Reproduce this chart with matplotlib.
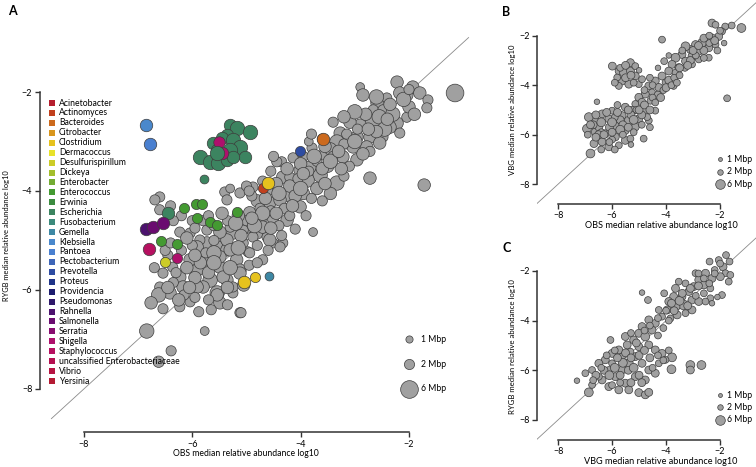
import matplotlib
matplotlib.use("Agg")
import matplotlib.pyplot as plt
import numpy as np

plt.rcParams['font.family'] = ['Lato', 'DejaVu Sans']

# genus legend (panel A)
genera = [
    "Acinetobacter", "Actinomyces", "Bacteroides", "Citrobacter", "Clostridium",
    "Dermacoccus", "Desulfurispirillum", "Dickeya", "Enterobacter", "Enterococcus",
    "Erwinia", "Escherichia", "Fusobacterium", "Gemella", "Klebsiella", "Pantoea",
    "Pectobacterium", "Prevotella", "Proteus", "Providencia", "Pseudomonas",
    "Rahnella", "Salmonella", "Serratia", "Shigella", "Staphylococcus",
    "uncalssified Enterobacteriaceae", "Vibrio", "Yersinia",
]
genus_colors = [
    "#B51F2E", "#C1401E", "#CC6A1E", "#D8961E", "#E6C21E", "#E8E22A", "#CCCC28",
    "#A4BE2C", "#74AC34", "#449A32", "#3C8C40", "#3C8460", "#3C8A7C", "#3E88A4",
    "#4A88CC", "#4A80D0", "#3E66B8", "#2E4CA2", "#1F3488", "#1C1C6E", "#2E186A",
    "#4C126E", "#6A0C70", "#880C70", "#AE106C", "#B61060", "#B41050", "#B61442",
    "#B41A32",
]
size_legend = [1, 2, 6]  # Mbp

# panel A: (OBS, RYGB, genome size Mbp), non-highlighted genera
gray_A = [
    (-1.15, -2.02, 6), (-1.72, -3.88, 3), (-2.72, -3.74, 3), (-2.90, -1.90, 1.5),
    (-2.85, -2.06, 3), (-2.22, -1.80, 3), (-1.93, -1.90, 3), (-1.80, -2.02, 3),
    (-1.65, -2.16, 2), (-1.67, -2.32, 2), (-2.04, -2.06, 3), (-2.17, -2.02, 3),
    (-2.41, -2.12, 2), (-2.59, -2.22, 3), (-2.66, -2.36, 2), (-2.48, -2.36, 2),
    (-2.04, -2.51, 2), (-2.22, -2.63, 3), (-2.35, -2.71, 3), (-2.66, -2.63, 5),
    (-2.90, -2.67, 3), (-3.09, -2.61, 3), (-3.40, -2.61, 2), (-3.27, -2.83, 3),
    (-2.96, -2.91, 3), (-2.72, -2.91, 3), (-2.48, -2.91, 2), (-2.17, -2.83, 2),
    (-2.30, -2.45, 4), (-2.55, -2.50, 4), (-2.80, -2.45, 3), (-2.00, -2.30, 3),
    (-3.33, -3.01, 4), (-3.03, -3.11, 3), (-2.78, -3.11, 3), (-2.54, -3.03, 3),
    (-3.22, -3.31, 3), (-2.96, -3.37, 3), (-3.79, -3.13, 2), (-3.59, -3.27, 2),
    (-3.45, -3.15, 3), (-2.72, -3.20, 2), (-3.10, -3.50, 2), (-3.33, -3.84, 4),
    (-3.64, -3.68, 4), (-3.88, -3.78, 4), (-4.20, -4.08, 4), (-4.35, -3.41, 2),
    (-4.14, -3.33, 2), (-4.01, -3.58, 3), (-3.83, -3.52, 3), (-4.33, -3.72, 3),
    (-3.50, -3.50, 3), (-3.70, -3.40, 2), (-3.95, -3.30, 2), (-3.20, -3.70, 2),
    (-3.45, -4.05, 3), (-3.70, -3.95, 3), (-3.95, -4.05, 3), (-4.57, -4.24, 3),
    (-4.38, -4.18, 3), (-4.01, -4.32, 3), (-4.25, -4.59, 3), (-4.75, -4.59, 3),
    (-4.94, -4.44, 3), (-5.12, -4.04, 2), (-4.88, -3.92, 2), (-5.40, -4.02, 2),
    (-4.10, -4.77, 2), (-3.77, -4.83, 1.5), (-4.51, -4.53, 3), (-4.81, -4.85, 3),
    (-4.62, -4.93, 2), (-4.99, -4.73, 3), (-5.25, -4.85, 3), (-5.49, -4.93, 3),
    (-4.33, -5.05, 2), (-4.51, -5.05, 2), (-4.70, -5.39, 2), (-4.97, -5.23, 2),
    (-5.73, -5.05, 3), (-5.54, -5.13, 3), (-5.36, -5.19, 3), (-5.18, -5.39, 3),
    (-5.73, -5.39, 3), (-5.49, -5.54, 3), (-5.12, -5.60, 3), (-5.67, -5.80, 4),
    (-5.36, -5.80, 3), (-5.54, -6.06, 4), (-5.25, -6.06, 2), (-5.49, -6.26, 2),
    (-5.80, -5.94, 3), (-5.12, -6.46, 2), (-5.77, -6.83, 1.5), (-6.60, -4.12, 2),
    (-6.23, -4.83, 2), (-6.04, -4.85, 2), (-5.86, -4.99, 2), (-5.91, -5.13, 3),
    (-6.04, -5.39, 3), (-6.36, -5.54, 2), (-6.54, -5.66, 2), (-6.23, -5.74, 3),
    (-5.91, -5.60, 3), (-6.60, -5.94, 2), (-6.41, -6.06, 3), (-5.49, -5.33, 3),
    (-5.36, -4.99, 3), (-5.30, -5.19, 3), (-5.06, -5.05, 2), (-5.06, -4.79, 2),
    (-5.30, -4.73, 2), (-5.49, -4.83, 3), (-5.73, -4.79, 2), (-4.88, -4.93, 2),
    (-4.70, -4.73, 3), (-4.57, -4.99, 3), (-4.38, -5.13, 2), (-4.94, -5.25, 2),
    (-5.12, -5.66, 3), (-5.43, -5.74, 3), (-5.91, -5.94, 3), (-5.25, -5.94, 2),
    (-6.17, -5.94, 3), (-6.69, -4.18, 2), (-6.60, -4.38, 2), (-5.36, -4.18, 2),
    (-4.44, -3.41, 2), (-4.20, -3.72, 2), (-6.84, -6.83, 4), (-6.39, -7.23, 2),
    (-6.62, -7.45, 2.5), (-5.10, -6.46, 2), (-5.88, -6.44, 2), (-6.62, -6.10, 4),
    (-6.76, -6.26, 3), (-6.54, -6.38, 2), (-6.23, -6.34, 2), (-6.04, -6.24, 2),
    (-5.49, -6.26, 3), (-5.54, -6.10, 3), (-4.80, -4.20, 3), (-4.60, -4.00, 2),
    (-4.45, -3.85, 3), (-4.70, -3.80, 2), (-4.90, -4.10, 2), (-4.20, -3.90, 3),
    (-4.05, -3.75, 2), (-3.85, -3.60, 2), (-3.60, -3.55, 3), (-4.10, -4.10, 3),
    (-4.30, -4.35, 2), (-4.55, -4.40, 2), (-4.75, -4.35, 2), (-5.00, -4.60, 2),
    (-5.15, -4.50, 3), (-5.35, -4.60, 2), (-5.60, -4.70, 2), (-5.80, -4.60, 2),
    (-6.00, -4.60, 2), (-6.20, -4.50, 2), (-6.40, -4.30, 2), (-6.00, -5.10, 2),
    (-6.20, -5.20, 2), (-6.45, -5.30, 2), (-6.70, -5.55, 2), (-5.75, -5.25, 2),
    (-5.60, -5.00, 2), (-4.95, -5.50, 2), (-4.80, -5.10, 2), (-4.60, -5.20, 2),
    (-4.40, -4.70, 2), (-4.20, -4.50, 2), (-3.90, -4.50, 2), (-3.60, -4.20, 2),
    (-3.40, -3.30, 2), (-3.20, -3.05, 2), (-2.95, -2.75, 2), (-3.15, -2.85, 2),
    (-3.60, -2.95, 2), (-3.85, -3.00, 1.5), (-5.00, -3.90, 2), (-5.30, -3.95, 1.5),
    (-6.15, -6.10, 2), (-6.35, -5.85, 2), (-5.95, -6.15, 2), (-5.70, -6.20, 2),
    (-5.35, -6.30, 2), (-6.50, -5.20, 2),
    (-3.00, -2.40, 4), (-3.20, -2.50, 3), (-2.60, -2.10, 4), (-2.10, -2.15, 4),
    (-1.90, -2.45, 3), (-2.45, -2.75, 4), (-2.85, -3.25, 3), (-3.55, -3.10, 3),
    (-3.75, -3.30, 4), (-4.00, -3.45, 3), (-4.25, -3.55, 3), (-4.55, -3.60, 2),
    (-3.25, -3.55, 3), (-3.55, -3.85, 3), (-3.80, -4.15, 2), (-4.15, -4.30, 3),
    (-4.40, -4.05, 4), (-4.65, -4.15, 3), (-4.85, -4.70, 4), (-5.10, -4.90, 3),
    (-5.20, -4.65, 4), (-5.45, -4.45, 3), (-5.70, -4.50, 2), (-5.60, -5.25, 4),
    (-5.85, -5.45, 3), (-5.30, -5.55, 4), (-5.05, -5.90, 3), (-5.70, -5.65, 3),
    (-5.95, -5.75, 3), (-6.10, -5.55, 3), (-6.30, -5.65, 2), (-6.45, -5.95, 3),
    (-6.25, -6.20, 3), (-5.65, -6.40, 2), (-4.80, -5.45, 2), (-4.55, -4.75, 3),
    (-4.35, -4.90, 2), (-4.95, -4.00, 2), (-4.70, -4.45, 4), (-4.00, -3.95, 4),
    (-3.45, -3.40, 4), (-3.00, -3.00, 4), (-2.60, -2.80, 3), (-2.35, -2.25, 3),
    (-2.00, -1.95, 2), (-3.80, -2.85, 2), (-4.50, -3.30, 2), (-6.35, -4.60, 2),
    (-6.10, -4.95, 3), (-6.40, -5.05, 2), (-5.95, -4.75, 2),
    (-5.15, -5.15, 4), (-5.60, -5.45, 4), (-5.95, -5.30, 3), (-4.90, -4.55, 3),
    (-4.45, -4.45, 3), (-3.95, -3.65, 3), (-3.30, -3.20, 3), (-2.75, -2.75, 3),
    (-2.40, -2.55, 3), (-6.05, -5.95, 3), (-5.35, -5.95, 3),
]

# panel A: highlighted genera (genus, OBS, RYGB, Mbp)
colored_A = [
    ("Klebsiella", -6.86, -2.67, 3), ("Pantoea", -6.78, -3.05, 3),
    ("Escherichia", -5.30, -2.67, 3), ("Escherichia", -5.18, -2.73, 4),
    ("Escherichia", -4.94, -2.81, 4), ("Escherichia", -5.36, -2.87, 3),
    ("Escherichia", -5.45, -2.93, 3), ("Escherichia", -5.25, -2.97, 4),
    ("Escherichia", -5.12, -3.11, 4), ("Escherichia", -5.03, -3.31, 3),
    ("Escherichia", -5.30, -3.17, 4), ("Escherichia", -5.62, -3.03, 3),
    ("Escherichia", -5.86, -3.31, 4), ("Escherichia", -5.67, -3.41, 4),
    ("Escherichia", -5.52, -3.43, 4), ("Escherichia", -5.36, -3.37, 3),
    ("Escherichia", -5.25, -3.31, 3), ("Escherichia", -5.54, -3.17, 3),
    ("Shigella", -5.51, -3.01, 2.5), ("Shigella", -5.45, -3.23, 3),
    ("Escherichia", -5.54, -3.23, 4), ("Escherichia", -5.78, -3.76, 1.5),
    ("Escherichia", -6.45, -4.44, 3),
    ("Rahnella", -6.86, -4.77, 3), ("Salmonella", -6.73, -4.73, 3),
    ("Salmonella", -6.54, -4.65, 3), ("Staphylococcus", -6.80, -5.17, 3),
    ("Desulfurispirillum", -6.50, -5.43, 2), ("Shigella", -6.28, -5.35, 2),
    ("Enterococcus", -6.58, -5.01, 2), ("Enterococcus", -6.28, -5.07, 2),
    ("Enterococcus", -6.15, -4.34, 2), ("Enterococcus", -5.93, -4.26, 2),
    ("Enterococcus", -5.82, -4.26, 2), ("Enterococcus", -5.91, -4.55, 2),
    ("Enterococcus", -5.67, -4.63, 2), ("Enterococcus", -5.54, -4.69, 2),
    ("Enterococcus", -5.18, -4.42, 2),
    ("Actinomyces", -4.70, -3.94, 2), ("Clostridium", -4.60, -3.84, 3),
    ("Clostridium", -5.05, -5.84, 3), ("Clostridium", -4.84, -5.74, 2),
    ("Gemella", -4.58, -5.72, 1.5), ("Bacteroides", -3.59, -2.95, 3),
    ("Prevotella", -4.01, -3.19, 2),
]

# panel B: (OBS, VBG, Mbp)
gray_B = [
    (-1.21, -1.69, 5), (-1.57, -1.59, 3), (-1.81, -1.63, 3), (-2.30, -1.49, 4),
    (-2.17, -1.56, 3), (-1.93, -1.83, 3), (-2.05, -2.03, 4), (-2.30, -2.09, 4),
    (-2.54, -2.16, 4), (-2.17, -2.36, 3), (-2.67, -2.29, 5), (-2.91, -2.36, 4),
    (-2.42, -2.49, 4), (-2.79, -2.63, 4), (-3.10, -2.56, 4), (-3.28, -2.43, 5),
    (-3.04, -2.83, 4), (-3.41, -2.76, 4), (-3.65, -2.89, 5), (-3.28, -3.03, 4),
    (-3.78, -3.16, 4), (-3.53, -3.29, 4), (-4.07, -3.03, 3), (-3.90, -3.43, 4),
    (-3.65, -3.49, 3), (-4.15, -2.16, 3), (-3.04, -3.16, 3), (-2.79, -2.96, 3),
    (-1.74, -4.53, 3), (-2.42, -2.89, 3), (-4.15, -3.63, 4), (-4.40, -3.83, 4),
    (-4.02, -3.89, 3), (-4.27, -4.09, 4), (-4.64, -4.03, 4), (-4.52, -4.29, 3),
    (-3.72, -4.03, 3), (-4.77, -4.36, 4), (-5.01, -4.49, 4), (-4.89, -4.69, 4),
    (-5.14, -4.76, 3), (-4.58, -4.63, 3), (-4.40, -5.03, 3), (-4.77, -5.03, 4),
    (-5.26, -5.03, 5), (-5.51, -4.89, 4), (-5.63, -5.23, 4), (-5.38, -5.43, 5),
    (-5.01, -5.36, 4), (-4.64, -5.43, 3), (-5.14, -5.69, 4), (-5.51, -5.83, 4),
    (-5.88, -5.63, 4), (-6.12, -5.36, 4), (-6.37, -5.16, 4), (-6.00, -5.03, 3),
    (-6.62, -5.43, 4), (-6.86, -5.29, 5), (-6.93, -5.76, 5), (-6.62, -5.89, 4),
    (-6.25, -5.96, 4), (-5.88, -6.09, 4), (-5.51, -6.23, 4), (-6.37, -6.29, 4),
    (-6.67, -6.36, 4), (-6.12, -6.49, 4), (-6.80, -6.76, 5), (-5.75, -6.43, 3),
    (-5.32, -6.16, 3), (-4.83, -6.16, 3), (-6.56, -4.67, 2), (-4.70, -5.29, 3),
    (-6.49, -5.69, 4), (-5.99, -3.23, 4), (-5.74, -3.43, 4), (-5.56, -3.49, 5),
    (-5.32, -3.09, 4), (-5.32, -3.43, 4), (-5.14, -3.63, 4), (-5.62, -3.83, 4),
    (-5.38, -3.96, 4), (-5.75, -4.03, 3), (-5.01, -3.96, 3), (-5.14, -3.23, 3),
    (-4.89, -3.76, 3), (-5.81, -3.69, 3), (-4.30, -4.40, 4), (-4.50, -4.50, 3),
    (-3.90, -3.80, 4), (-3.70, -3.70, 3), (-3.50, -3.60, 3), (-3.30, -3.30, 3),
    (-3.10, -3.00, 4), (-2.90, -2.80, 3), (-2.60, -2.60, 4), (-2.40, -2.30, 3),
    (-2.20, -2.20, 4), (-4.90, -5.20, 4), (-5.10, -5.00, 3), (-5.30, -5.20, 4),
    (-5.70, -5.40, 4), (-5.90, -5.30, 3), (-6.10, -5.70, 4), (-6.40, -5.90, 3),
    (-6.00, -6.20, 3), (-5.20, -5.90, 3), (-4.60, -5.70, 3), (-4.50, -4.00, 3),
    (-4.10, -4.20, 3), (-6.70, -5.60, 4), (-6.50, -6.00, 4), (-5.60, -5.60, 4),
    (-6.80, -5.60, 4), (-6.60, -5.20, 4), (-6.40, -5.50, 5), (-6.20, -5.10, 4),
    (-6.00, -5.50, 5), (-5.80, -5.10, 4), (-5.70, -5.80, 5), (-5.40, -5.70, 4),
    (-5.20, -5.40, 5), (-5.00, -5.00, 4), (-4.80, -4.80, 4), (-5.40, -5.00, 4),
    (-5.80, -4.80, 3), (-6.30, -6.00, 4), (-6.00, -5.90, 4), (-5.60, -6.00, 3),
    (-6.60, -6.10, 4), (-6.90, -6.00, 3), (-6.40, -6.60, 3), (-6.10, -6.30, 3),
    (-5.90, -6.60, 3), (-5.30, -6.40, 2), (-4.90, -5.60, 3), (-4.60, -5.00, 4),
    (-4.40, -4.70, 3), (-4.20, -4.50, 4), (-4.00, -4.10, 4), (-3.80, -4.00, 3),
    (-3.60, -3.90, 3), (-3.50, -3.30, 4), (-3.20, -3.20, 4), (-3.00, -2.60, 4),
    (-2.80, -2.40, 4), (-2.60, -2.10, 4), (-2.40, -2.00, 3), (-2.00, -1.80, 3),
    (-1.85, -2.30, 2), (-2.10, -2.60, 3), (-2.60, -2.90, 3), (-3.40, -2.60, 3),
    (-3.90, -2.80, 2), (-4.30, -3.30, 2), (-4.60, -3.70, 3), (-4.80, -4.20, 3),
    (-5.50, -3.70, 4), (-5.30, -3.60, 4), (-5.70, -3.30, 3), (-5.50, -3.20, 4),
    (-5.20, -3.90, 3), (-5.90, -3.90, 3), (-5.00, -3.40, 2),
]

# panel C: (VBG, RYGB, Mbp)
gray_C = [
    (-1.78, -1.36, 3), (-2.05, -1.56, 3), (-1.65, -1.62, 3), (-1.89, -1.83, 4),
    (-2.20, -1.96, 3), (-2.39, -1.62, 3), (-1.80, -2.09, 3), (-1.62, -2.16, 3),
    (-1.68, -2.43, 3), (-1.99, -2.23, 4), (-2.30, -2.30, 4), (-2.54, -2.09, 4),
    (-2.79, -2.36, 4), (-2.91, -2.09, 3), (-2.60, -2.56, 4), (-2.36, -2.70, 3),
    (-1.93, -2.97, 3), (-2.36, -3.10, 3), (-2.98, -2.63, 4), (-3.28, -2.50, 3),
    (-3.16, -2.83, 4), (-3.53, -2.43, 3), (-3.65, -2.70, 4), (-3.41, -3.03, 4),
    (-3.72, -3.03, 4), (-3.04, -3.17, 4), (-2.79, -3.23, 4), (-2.54, -3.23, 3),
    (-3.35, -3.37, 6), (-3.65, -3.44, 5), (-3.90, -3.23, 4), (-3.96, -3.57, 4),
    (-3.04, -3.57, 4), (-3.59, -3.77, 4), (-3.28, -3.70, 3), (-3.84, -3.91, 3),
    (-4.27, -3.57, 3), (-4.15, -3.84, 3), (-4.89, -2.87, 2), (-4.67, -3.17, 3),
    (-4.07, -2.90, 3), (-4.40, -4.11, 4), (-4.64, -3.97, 4), (-4.52, -4.38, 4),
    (-4.89, -4.24, 4), (-5.01, -4.51, 4), (-4.77, -4.64, 5), (-5.20, -4.78, 4),
    (-5.51, -4.64, 4), (-5.44, -4.98, 4), (-5.01, -5.05, 4), (-4.64, -4.98, 4),
    (-4.40, -5.18, 4), (-4.15, -5.32, 4), (-3.78, -5.48, 5), (-3.80, -5.96, 5),
    (-3.10, -5.79, 5), (-2.69, -5.79, 5), (-3.10, -5.99, 4), (-5.75, -5.18, 4),
    (-6.06, -4.78, 3), (-6.00, -5.32, 4), (-6.25, -5.58, 4), (-6.49, -5.72, 4),
    (-6.74, -5.99, 3), (-6.99, -6.12, 3), (-7.30, -6.42, 2), (-6.86, -6.89, 5),
    (-6.74, -6.59, 3), (-6.37, -6.39, 4), (-6.12, -6.66, 4), (-5.88, -6.26, 4),
    (-5.63, -5.99, 4), (-5.38, -5.72, 5), (-5.14, -5.45, 4), (-4.89, -5.72, 4),
    (-4.64, -5.99, 4), (-4.40, -6.12, 4), (-4.77, -6.39, 4), (-5.14, -6.26, 4),
    (-5.51, -6.52, 4), (-5.75, -6.79, 4), (-5.38, -6.79, 4), (-5.01, -6.90, 4),
    (-4.77, -6.99, 4), (-4.64, -6.89, 4), (-6.12, -5.99, 3), (-6.49, -6.26, 3),
    (-6.00, -5.72, 3), (-5.63, -5.45, 3), (-5.32, -5.25, 3), (-4.27, -5.72, 3),
    (-4.02, -5.58, 3),
    (-6.60, -6.20, 4), (-6.30, -6.00, 4), (-6.10, -6.20, 5), (-5.90, -5.90, 5),
    (-5.70, -6.20, 4), (-5.60, -5.70, 5), (-5.40, -6.00, 4), (-5.20, -5.90, 5),
    (-5.00, -6.20, 4), (-4.90, -6.50, 4), (-5.30, -6.50, 4), (-5.70, -6.50, 3),
    (-6.00, -6.60, 3), (-5.80, -5.50, 4), (-5.50, -5.30, 4), (-5.30, -5.50, 4),
    (-5.00, -5.40, 4), (-4.80, -5.20, 4), (-4.60, -5.50, 4), (-4.50, -5.90, 3),
    (-4.30, -5.40, 3), (-4.10, -5.60, 3), (-3.90, -5.20, 3), (-5.10, -4.90, 4),
    (-5.30, -4.50, 3), (-4.80, -4.40, 3), (-4.60, -4.20, 3), (-4.30, -4.60, 3),
    (-4.10, -4.30, 3), (-3.90, -4.00, 3), (-4.30, -3.90, 3), (-3.70, -3.60, 4),
    (-3.50, -3.20, 5), (-3.20, -3.40, 4), (-3.40, -2.90, 4), (-3.10, -2.70, 4),
    (-2.80, -2.60, 4), (-2.60, -2.90, 3), (-2.90, -3.00, 3), (-2.40, -2.50, 3),
    (-2.20, -2.10, 3), (-2.60, -2.30, 3), (-2.80, -2.10, 3), (-2.00, -1.70, 3),
    (-3.80, -3.30, 4), (-4.00, -3.60, 3), (-6.40, -5.90, 3), (-6.70, -6.40, 3),
    (-6.20, -5.40, 3), (-5.90, -5.20, 3), (-2.30, -3.30, 2), (-2.10, -3.05, 2),
]

GRAY = "#a0a0a0"
EDGE = "#3c3c3c"
W, H = 756, 467
SCALE_A = 27
SCALE_BC = 8


def px_box(left, top, right, bottom):
    return [left / W, 1 - bottom / H, (right - left) / W, (bottom - top) / H]


def style_axes(ax, xlim, ylim, pad=2):
    ax.set_xlim(*xlim)
    ax.set_ylim(*ylim)
    ax.patch.set_visible(False)
    for s in ["top", "right"]:
        ax.spines[s].set_visible(False)
    for s in ["left", "bottom"]:
        ax.spines[s].set_bounds(-8, -2)
        ax.spines[s].set_linewidth(1.1)
        ax.spines[s].set_color("#333333")
    ax.set_xticks([-8, -6, -4, -2])
    ax.set_yticks([-8, -6, -4, -2])
    ax.tick_params(direction="out", length=3.5, width=1, labelsize=6.5,
                   pad=pad, color="#333333")


def size_key(ax, scale, text_x):
    for i, mbp in enumerate(size_legend):
        yy = -7 - 0.5 * i
        ax.scatter([-2], [yy], s=scale * mbp, c=GRAY, edgecolors=EDGE,
                   linewidths=0.5, clip_on=False, zorder=5)
        ax.text(text_x, yy, f"{mbp} Mbp", fontsize=6.2, va="center", ha="left")


def gray_scatter(ax, pts, scale):
    g = np.array(pts)
    ax.scatter(g[:, 0], g[:, 1], s=scale * g[:, 2], c=GRAY, edgecolors=EDGE,
               linewidths=0.5, zorder=2)


fig = plt.figure(figsize=(7.56, 4.67), dpi=100)

# ---- panel A
axA = fig.add_axes(px_box(40, 20, 470, 432))
style_axes(axA, (-8.81, -0.874), (-8.87, -0.545))
axA.plot([-8.6, -0.9], [-8.6, -0.9], color="#8a8a8a", lw=0.6, zorder=1)
gray_scatter(axA, gray_A, SCALE_A)
cmap = dict(zip(genera, genus_colors))
for name, xv, yv, mbp in colored_A:
    axA.scatter([xv], [yv], s=SCALE_A * mbp, c=cmap[name], edgecolors=EDGE,
                linewidths=0.5, zorder=3)
size_key(axA, SCALE_A, -1.78)

for i, (name, col) in enumerate(zip(genera, genus_colors)):
    py = 103 + i * 9.93
    fig.patches.append(plt.Rectangle((48.5 / W, 1 - (py + 3) / H), 6 / W, 6 / H,
                                     transform=fig.transFigure, facecolor=col,
                                     edgecolor="none"))
    fig.text(59 / W, 1 - py / H, name, fontsize=6.2, va="center", ha="left")

fig.text(246 / W, 1 - 454 / H, "OBS median relative abundance log10",
         fontsize=6.2, ha="center", va="center")
fig.text(7 / W, 1 - 236 / H, "RYGB median relative abundance log10",
         fontsize=5.4, ha="center", va="center", rotation=90)
fig.text(8 / W, 1 - 11 / H, "A", fontsize=9, fontweight="bold",
         ha="left", va="center")

# ---- panel B
axB = fig.add_axes(px_box(537, 2, 756, 204))
style_axes(axB, (-8.78, -0.67), (-8.8, -0.64), pad=1.5)
axB.plot([-8.85, -0.6], [-8.85, -0.6], color="#8a8a8a", lw=0.6, zorder=1)
gray_scatter(axB, gray_B, SCALE_BC)
size_key(axB, SCALE_BC, -1.76)
fig.text(661 / W, 1 - 225 / H, "OBS median relative abundance log10",
         fontsize=6.6, ha="center", va="center")
fig.text(512 / W, 1 - 110 / H, "VBG median relative abundance log10",
         fontsize=5.6, ha="center", va="center", rotation=90)
fig.text(502 / W, 1 - 12 / H, "B", fontsize=9, fontweight="bold",
         ha="left", va="center")

# ---- panel C
axC = fig.add_axes(px_box(537, 235, 756, 440))
style_axes(axC, (-8.78, -0.67), (-8.81, -0.55), pad=1.5)
axC.plot([-8.85, -0.5], [-8.85, -0.5], color="#8a8a8a", lw=0.6, zorder=1)
gray_scatter(axC, gray_C, SCALE_BC)
size_key(axC, SCALE_BC, -1.76)
fig.text(661 / W, 1 - 461 / H, "VBG median relative abundance log10",
         fontsize=6.6, ha="center", va="center")
fig.text(512 / W, 1 - 347 / H, "RYGB median relative abundance log10",
         fontsize=5.6, ha="center", va="center", rotation=90)
fig.text(502 / W, 1 - 248 / H, "C", fontsize=9, fontweight="bold",
         ha="left", va="center")

fig.savefig("out.png", dpi=100)
